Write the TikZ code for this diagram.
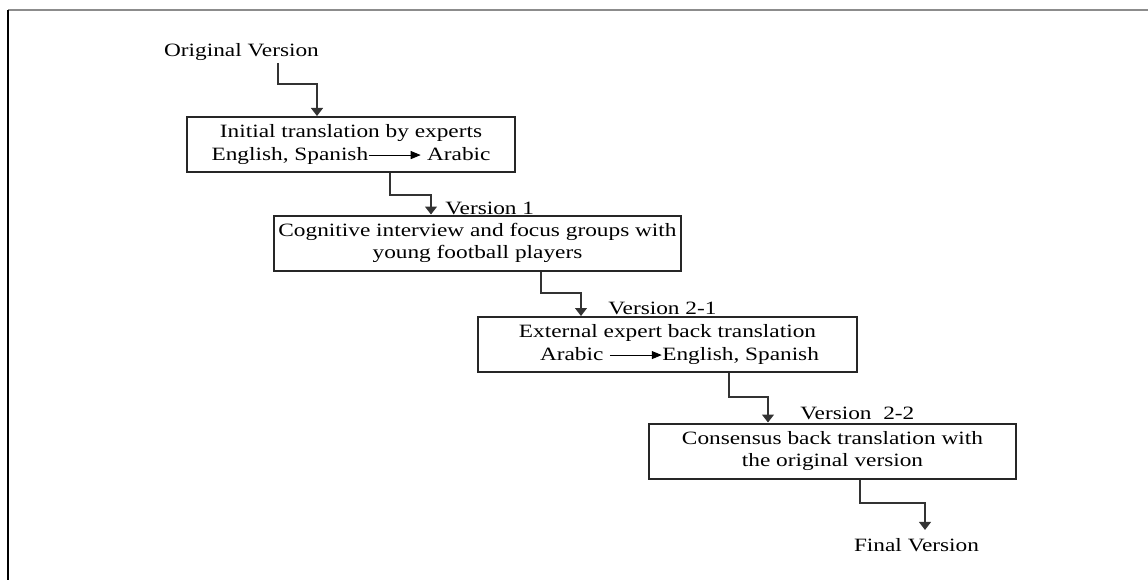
\documentclass[tikz,border=0pt]{standalone}
\usepackage{fontspec}
\setmainfont{Liberation Serif}[FakeStretch=1.24]
\usetikzlibrary{arrows.meta}

\tikzset{
  stage/.style={draw=black!85, line width=1pt, align=center, minimum height=27.5pt, inner sep=2pt},
  link/.style={draw=black!80, line width=0.6pt, -{Triangle[width=6pt,length=4pt]}},
  lbl/.style={inner sep=1pt}
}
\newcommand{\trarrow}{\tikz[baseline=-0.6ex]\draw[line width=0.5pt,-{Triangle[width=4pt,length=5pt]}] (0,0) -- (26pt,0);}

\begin{document}
\begin{tikzpicture}[x=0.5pt,y=0.5pt,font=\fontsize{9.4}{11.25}\selectfont]
\useasboundingbox (0,0) rectangle (1148,580);

\draw[black!45, line width=1pt] (8,570) -- (1148,570);
\draw[black, line width=1.2pt] (8,570) -- (8,0);

\node[lbl] (orig) at (241.5,528) {Original Version};
\node[stage, minimum width=164pt] (b1) at (351,435.5) {Initial translation by experts\\English, Spanish\trarrow{} Arabic};
\node[stage, minimum width=203.5pt] (b2) at (477.5,337) {Cognitive interview and focus groups with\\young football players};
\node[stage, minimum width=189.5pt] (b3) at (667.5,235.5) {External expert back translation\\\hspace*{12pt}Arabic \trarrow English, Spanish};
\node[stage, minimum width=183.5pt] (b4) at (832.5,129) {Consensus back translation with\\the original version};
\node[lbl] (final) at (916.5,35) {Final Version};

\node[lbl, anchor=west] (v1) at (443,372) {Version 1};
\node[lbl, anchor=west] (v21) at (606,272) {Version 2-1};
\node[lbl, anchor=west] (v22) at (798,167) {Version\ \ 2-2};

\draw[link] (orig.south -| 278,0) -- (278,496) -| (b1.north -| 317,0);
\draw[link] (b1.south -| 390,0) -- (390,385) -| (b2.north -| 431,0);
\draw[link] (b2.south -| 541,0) -- (541,287) -| (b3.north -| 581,0);
\draw[link] (b3.south -| 729,0) -- (729,183) -| (b4.north -| 768,0);
\draw[link, shorten >=3pt] (b4.south -| 860,0) -- (860,77) -| (final.north -| 925,0);

\end{tikzpicture}
\end{document}
